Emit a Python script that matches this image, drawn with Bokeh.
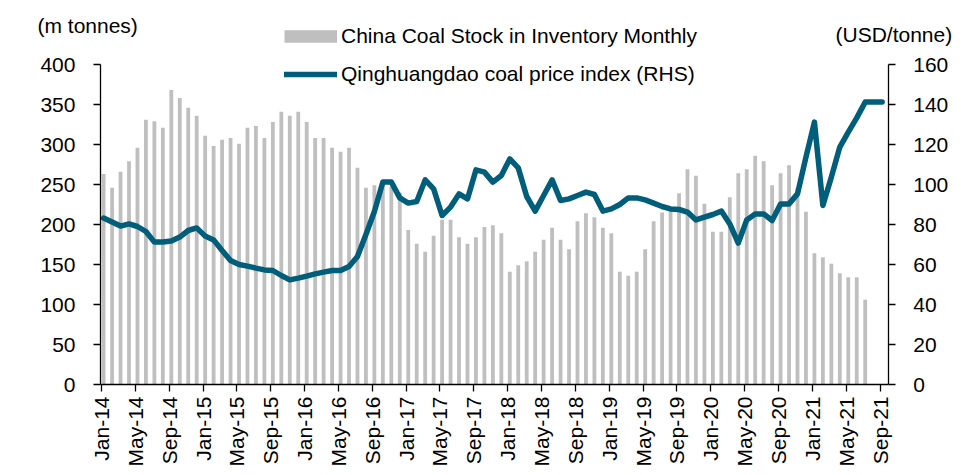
import numpy as np
from bokeh.plotting import figure
from bokeh.models import Range1d, LinearAxis, FixedTicker, Legend, LegendItem, Label
from bokeh.embed import file_html
from bokeh.resources import INLINE

# ---------------- data ----------------
tick_labels = ["Jan-14", "May-14", "Sep-14", "Jan-15", "May-15", "Sep-15",
               "Jan-16", "May-16", "Sep-16", "Jan-17", "May-17", "Sep-17",
               "Jan-18", "May-18", "Sep-18", "Jan-19", "May-19", "Sep-19",
               "Jan-20", "May-20", "Sep-20", "Jan-21", "May-21", "Sep-21"]

# China coal stock in inventory, monthly (m tonnes), Jan-14 .. Jul-21
stock = [263, 246, 266, 279, 296, 331, 329, 321, 368, 358, 346, 336,
         311, 298, 306, 308, 301, 321, 323, 308, 328, 341, 336, 341,
         328, 308, 308, 296, 291, 296, 271, 246, 249, 249, 247, 240,
         193, 176, 166, 186, 206, 206, 184, 176, 184, 197, 199, 189,
         141, 149, 154, 166, 181, 196, 181, 169, 204, 214, 209, 196,
         189, 141, 136, 141, 169, 204, 215, 220, 239, 269, 261, 226,
         191, 191, 234, 264, 269, 286, 279, 249, 264, 274, 246, 216,
         164, 159, 151, 139, 134, 134, 106]

# Qinghuangdao coal price index (USD/tonne), Jan-14 .. Sep-21
price = [83.2, 81.2, 79.2, 80.3, 79.0, 76.5, 71.2, 71.2, 71.7, 73.7, 77.0, 78.3,
         74.2, 72.3, 67.0, 62.0, 60.0, 59.2, 58.2, 57.3, 57.0, 54.5, 52.3, 53.2,
         54.2, 55.3, 56.2, 57.0, 57.0, 59.0, 64.0, 75.0, 86.5, 101.2, 101.2, 93.3,
         90.7, 91.5, 102.3, 97.8, 84.5, 88.7, 95.3, 92.8, 107.3, 106.2, 101.2, 104.5,
         112.8, 108.3, 94.0, 86.7, 94.5, 102.3, 92.0, 92.8, 94.5, 96.2, 95.0, 86.7,
         87.8, 90.0, 93.3, 93.3, 92.3, 90.7, 89.0, 87.8, 87.5, 86.2, 82.3, 83.7,
         85.0, 86.7, 80.3, 70.7, 82.3, 85.3, 85.3, 82.0, 90.3, 90.3, 95.3, 113.7,
         131.2, 89.5, 103.7, 118.7, 126.2, 133.3, 141.2, 141.2, 141.2]

left_ticks = list(range(0, 401, 50))
right_ticks = list(range(0, 161, 20))

bar_label = "China Coal Stock in Inventory Monthly"
line_label = "Qinghuangdao coal price index (RHS)"
left_title = "(m tonnes)"
right_title = "(USD/tonne)"

# ---------------- styling / layout ----------------
FONT = "Liberation Sans"
FS = "21px"
BAR_COLOR = "#BFBFBF"
LINE_COLOR = "#005E7A"
TXT = "#000000"
OFFSET = 0.25           # data points sit slightly right of the month tick

W, H = 969, 475         # the frame covers the whole canvas
X0_PX, PX_PER_MONTH = 101.0, 8.462     # pixel of the Jan-14 tick, month width
Y0_PX = 384.0                          # pixel of the x axis
PX_PER_LEFT = 320 / 400.0
PX_PER_RIGHT = 320 / 160.0
X_MIN, X_MAX = -0.12, 92.97            # extent of the x axis line (data)

x_stock = np.arange(len(stock)) + OFFSET
x_price = np.arange(len(price)) + OFFSET

p = figure(frame_width=W, frame_height=H,
           x_range=Range1d(-X0_PX / PX_PER_MONTH, (W - X0_PX) / PX_PER_MONTH),
           y_range=Range1d(-(H - Y0_PX) / PX_PER_LEFT, Y0_PX / PX_PER_LEFT),
           output_backend="svg", toolbar_location=None,
           min_border=0)
p.extra_y_ranges = {"rhs": Range1d(-(H - Y0_PX) / PX_PER_RIGHT,
                                   Y0_PX / PX_PER_RIGHT)}
p.outline_line_color = None
p.xgrid.visible = False
p.ygrid.visible = False
p.background_fill_color = "white"
p.border_fill_color = "white"

bars = p.vbar(x=x_stock, top=stock, width=0.45, fill_color=BAR_COLOR,
              line_color=None)
line = p.line(x=x_price, y=price, y_range_name="rhs", line_width=5.5,
              line_color=LINE_COLOR, line_join="round", line_cap="round")
# legend key for the bars (kept off the canvas)
key = p.line(x=[-60, -59], y=[-500, -500], line_width=12.4,
             line_color=BAR_COLOR, line_cap="butt")


def style_axis(ax):
    ax.axis_line_color = "black"
    ax.axis_line_width = 1.3
    ax.major_tick_line_color = "black"
    ax.major_tick_line_width = 1.3
    ax.major_tick_in = 0
    ax.major_tick_out = 7
    ax.minor_tick_line_color = None
    ax.major_label_text_font = FONT
    ax.major_label_text_font_size = FS
    ax.major_label_text_color = TXT


# x axis
xa = p.xaxis[0]
style_axis(xa)
xticks = list(range(0, 4 * len(tick_labels), 4))
xa.ticker = FixedTicker(ticks=xticks)
xa.major_label_overrides = {t: lab for t, lab in zip(xticks, tick_labels)}
xa.major_label_orientation = np.pi / 2
xa.major_label_standoff = 5
xa.fixed_location = 0
xa.bounds = (X_MIN, X_MAX)

# left axis
ya = p.yaxis[0]
style_axis(ya)
ya.ticker = FixedTicker(ticks=left_ticks)
ya.bounds = (0, max(left_ticks))
ya.major_label_standoff = 18
ya.fixed_location = X_MIN

# right axis
ra = LinearAxis(y_range_name="rhs")
style_axis(ra)
ra.ticker = FixedTicker(ticks=right_ticks)
ra.bounds = (0, max(right_ticks))
ra.major_label_standoff = 18
ra.fixed_location = X_MAX
p.add_layout(ra, "right")

# axis titles
p.add_layout(Label(x=(37 - X0_PX) / PX_PER_MONTH, y=(Y0_PX - 25) / PX_PER_LEFT,
                   text=left_title, text_font=FONT, text_font_size=FS,
                   text_color=TXT, text_baseline="alphabetic",
                   text_align="left"))
p.add_layout(Label(x=(835 - X0_PX) / PX_PER_MONTH, y=(Y0_PX - 34) / PX_PER_LEFT,
                   text=right_title, text_font=FONT, text_font_size=FS,
                   text_color=TXT, text_baseline="alphabetic",
                   text_align="left"))

legend = Legend(items=[LegendItem(label=bar_label, renderers=[key]),
                       LegendItem(label=line_label, renderers=[line])],
                location=(284, H - 85.5), orientation="vertical",
                glyph_width=53, glyph_height=24, label_height=24,
                label_standoff=4, spacing=14, padding=0, margin=0,
                border_line_color=None, background_fill_alpha=0,
                label_text_font=FONT, label_text_font_size=FS,
                label_text_color=TXT)
p.add_layout(legend)

open("out.html", "w").write(file_html(p, INLINE))
